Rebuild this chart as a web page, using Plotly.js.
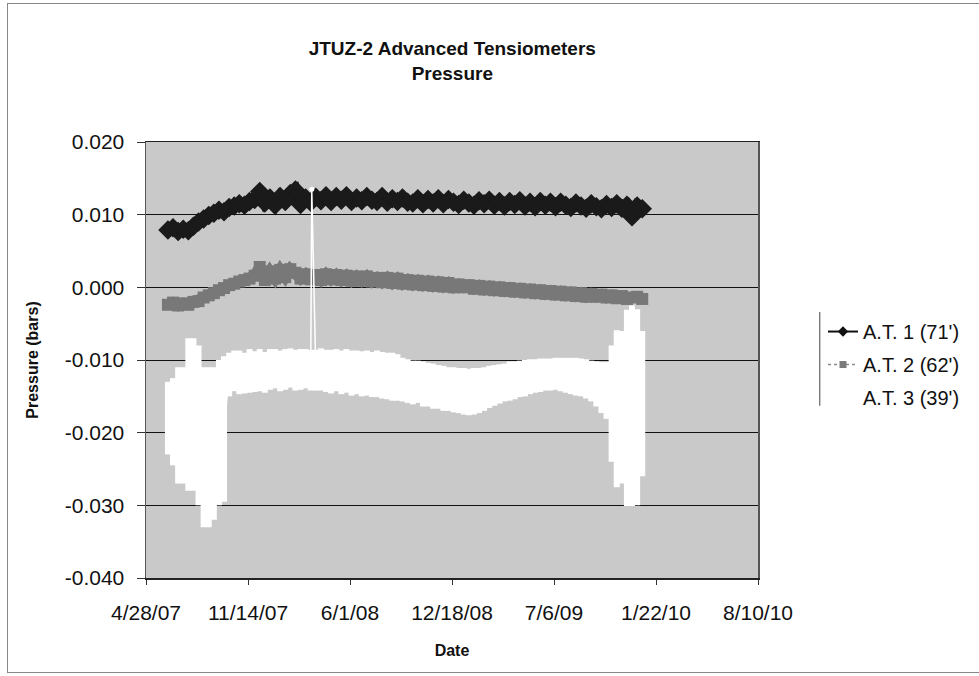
<!DOCTYPE html>
<html>
<head>
<meta charset="utf-8">
<script src="https://cdn.plot.ly/plotly-3.0.1.min.js"></script>
<style>
html,body{margin:0;padding:0;background:#fff;overflow:hidden;}
#wrap{position:relative;width:979px;height:676px;}
#chart{width:979px;height:676px;}
#frame{position:absolute;left:7px;top:3px;width:1000px;height:668px;border-left:1px solid #888;border-top:1px solid #888;border-bottom:1px solid #888;pointer-events:none;}
</style>
</head>
<body>
<div id="wrap"><div id="chart"></div><div id="frame"></div></div>
<script>
// Sampling dates (approx. every 10 days)
const dates = [
"2007-06-10","2007-06-20","2007-06-30","2007-07-10","2007-07-20","2007-07-30","2007-08-09","2007-08-19","2007-08-29","2007-09-08",
"2007-09-18","2007-09-28","2007-10-08","2007-10-18","2007-10-28","2007-11-07","2007-11-17","2007-11-27","2007-12-07","2007-12-17",
"2007-12-27","2008-01-06","2008-01-16","2008-01-26","2008-02-05","2008-02-15","2008-02-25","2008-03-06","2008-03-16","2008-03-18",
"2008-03-26","2008-04-05","2008-04-15","2008-04-25","2008-05-05","2008-05-15","2008-05-25","2008-06-04","2008-06-14","2008-06-24",
"2008-07-04","2008-07-14","2008-07-24","2008-08-03","2008-08-13","2008-08-23","2008-09-02","2008-09-12","2008-09-22","2008-10-02",
"2008-10-12","2008-10-22","2008-11-01","2008-11-11","2008-11-21","2008-12-01","2008-12-11","2008-12-21","2008-12-31","2009-01-10",
"2009-01-20","2009-01-30","2009-02-09","2009-02-19","2009-03-01","2009-03-11","2009-03-21","2009-03-31","2009-04-10","2009-04-20",
"2009-04-30","2009-05-10","2009-05-20","2009-05-30","2009-06-09","2009-06-19","2009-06-29","2009-07-09","2009-07-19","2009-07-29",
"2009-08-08","2009-08-18","2009-08-28","2009-09-07","2009-09-17","2009-09-27","2009-10-07","2009-10-17","2009-10-27","2009-11-06",
"2009-11-16","2009-11-26","2009-12-06","2009-12-16","2009-12-26"
];

// A.T. 1 (71')
const at1 = [
0.0079,0.0082,0.0077,0.0080,0.0078,0.0084,0.0090,0.0094,0.0099,0.0102,
0.0106,0.0104,0.0110,0.0112,0.0115,0.0113,0.0118,0.0121,0.0132,0.0116,
0.0123,0.0113,0.0125,0.0118,0.0129,0.0134,0.0114,0.0123,0.0117,null,
0.0124,0.0119,0.0126,0.0118,0.0125,0.0120,0.0126,0.0118,0.0123,0.0119,
0.0125,0.0120,0.0118,0.0125,0.0117,0.0122,0.0118,0.0123,0.0117,0.0116,
0.0122,0.0115,0.0121,0.0116,0.0122,0.0115,0.0121,0.0117,0.0114,0.0120,
0.0116,0.0113,0.0119,0.0115,0.0120,0.0113,0.0118,0.0112,0.0118,0.0114,
0.0119,0.0112,0.0117,0.0111,0.0118,0.0113,0.0117,0.0111,0.0117,0.0113,
0.0110,0.0116,0.0112,0.0109,0.0115,0.0111,0.0108,0.0114,0.0110,0.0115,
0.0109,0.0113,0.0097,0.0112,0.0108
];

// A.T. 2 (62')
const at2 = [
-0.0024,-0.0021,-0.0025,-0.0022,-0.0024,-0.0020,-0.0019,-0.0014,-0.0011,-0.0008,
-0.0004,-0.0001,0.0003,0.0005,0.0008,0.0010,0.0012,0.0016,0.0028,0.0010,
0.0022,0.0012,0.0024,0.0014,0.0025,0.0020,0.0012,0.0018,0.0011,null,
0.0017,0.0010,0.0018,0.0011,0.0017,0.0010,0.0016,0.0009,0.0015,0.0009,
0.0015,0.0008,0.0013,0.0007,0.0013,0.0006,0.0012,0.0005,0.0010,0.0004,
0.0009,0.0003,0.0008,0.0002,0.0007,0.0001,0.0006,0.0000,0.0004,0.0000,
0.0003,-0.0002,0.0002,-0.0003,0.0001,-0.0004,0.0000,-0.0005,-0.0001,-0.0006,
-0.0002,-0.0007,-0.0003,-0.0008,-0.0004,-0.0009,-0.0005,-0.0010,-0.0006,-0.0011,
-0.0007,-0.0012,-0.0008,-0.0013,-0.0009,-0.0013,-0.0010,-0.0014,-0.0011,-0.0015,
-0.0012,-0.0016,-0.0014,-0.0013,-0.0016
];

// A.T. 3 (39') : mid value of the daily scatter and half-range of that scatter
const at3 = [
-0.0180,-0.0185,-0.0190,-0.0190,-0.0175,-0.0175,-0.0190,-0.0220,-0.0220,-0.0215,
-0.0200,-0.0195,-0.0120,-0.0115,-0.0117,-0.0118,-0.0115,-0.0116,-0.0114,-0.0117,
-0.0113,-0.0112,-0.0115,-0.0113,-0.0111,-0.0114,-0.0113,-0.0112,-0.0114,0.0135,
-0.0114,-0.0113,-0.0115,-0.0116,-0.0114,-0.0117,-0.0115,-0.0118,-0.0117,-0.0119,
-0.0118,-0.0120,-0.0119,-0.0121,-0.0122,-0.0123,-0.0124,-0.0127,-0.0129,-0.0131,
-0.0130,-0.0133,-0.0134,-0.0136,-0.0137,-0.0139,-0.0140,-0.0141,-0.0142,-0.0143,
-0.0144,-0.0143,-0.0142,-0.0140,-0.0137,-0.0135,-0.0133,-0.0131,-0.0129,-0.0128,
-0.0126,-0.0125,-0.0123,-0.0122,-0.0121,-0.0120,-0.0120,-0.0119,-0.0120,-0.0121,
-0.0122,-0.0123,-0.0124,-0.0126,-0.0129,-0.0133,-0.0138,-0.0142,-0.0160,-0.0167,
-0.0165,-0.0166,-0.0163,-0.0165,-0.0160
];
const at3Spread = [
0.0050,0.0060,0.0080,0.0080,0.0105,0.0105,0.0110,0.0110,0.0110,0.0105,
0.0100,0.0100,0.0030,0.0028,0.0030,0.0028,0.0030,0.0028,0.0029,0.0028,
0.0028,0.0027,0.0028,0.0028,0.0027,0.0028,0.0028,0.0027,0.0028,0.0000,
0.0028,0.0029,0.0029,0.0030,0.0029,0.0030,0.0030,0.0031,0.0030,0.0031,
0.0031,0.0031,0.0032,0.0032,0.0032,0.0033,0.0032,0.0030,0.0030,0.0030,
0.0029,0.0031,0.0030,0.0031,0.0030,0.0031,0.0030,0.0031,0.0031,0.0032,
0.0032,0.0032,0.0031,0.0030,0.0029,0.0028,0.0027,0.0026,0.0027,0.0026,
0.0025,0.0025,0.0024,0.0023,0.0023,0.0022,0.0022,0.0022,0.0023,0.0024,
0.0025,0.0026,0.0026,0.0027,0.0028,0.0031,0.0035,0.0039,0.0080,0.0108,
0.0105,0.0135,0.0138,0.0135,0.0100
];

const seriesNames = ["A.T. 1 (71')", "A.T. 2 (62')", "A.T. 3 (39')"];
const xTickVals = ["2007-04-28","2007-11-14","2008-06-01","2008-12-18","2009-07-06","2010-01-22","2010-08-10"];
const xTickText = ["4/28/07","11/14/07","6/1/08","12/18/08","7/6/09","1/22/10","8/10/10"];
const yTickVals = [0.02,0.01,0,-0.01,-0.02,-0.03,-0.04];
const yTickText = ["0.020","0.010","0.000","-0.010","-0.020","-0.030","-0.040"];

const FONT = "Liberation Sans, Arial, Helvetica, sans-serif";

const traces = [
  {x: dates, y: at1, name: seriesNames[0], type: 'scatter', mode: 'lines+markers', showlegend: false,
   line: {color: '#151515', width: 11}, marker: {symbol: 'diamond', size: 15, color: '#1a1a1a'}},
  {x: dates, y: at2, name: seriesNames[1], type: 'scatter', mode: 'lines+markers', showlegend: false,
   line: {color: '#7a7a7a', width: 11}, marker: {symbol: 'square', size: 12, color: '#787878'}},
  {x: dates, y: at3, name: seriesNames[2], type: 'scatter', mode: 'lines+markers', showlegend: false,
   line: {color: '#ffffff', width: 1.5}, marker: {symbol: 'circle', size: 5, color: '#ffffff'},
   error_y: {type: 'data', array: at3Spread, symmetric: true, color: '#ffffff', thickness: 6, width: 0}},
  // legend entries
  {x: [null], y: [null], name: seriesNames[0], type: 'scatter', mode: 'lines+markers', legendgroup: 'a',
   line: {color: '#111111', width: 2}, marker: {symbol: 'diamond', size: 8, color: '#111111'}},
  {x: [null], y: [null], name: seriesNames[1], type: 'scatter', mode: 'lines+markers', legendgroup: 'b',
   line: {color: '#8a8a8a', width: 1.5, dash: 'dot'}, marker: {symbol: 'square', size: 7, color: '#7a7a7a'}},
  {x: [null], y: [null], name: seriesNames[2], type: 'scatter', mode: 'lines+markers', legendgroup: 'c',
   line: {color: '#ffffff', width: 2}, marker: {symbol: 'circle', size: 6, color: '#ffffff'}}
];

const layout = {
  width: 979, height: 676,
  margin: {l: 146, r: 221, t: 142, b: 98},
  paper_bgcolor: '#ffffff',
  plot_bgcolor: '#c9c9c9',
  font: {family: FONT, color: '#111111'},
  title: {text: '<b>JTUZ-2 Advanced Tensiometers<br>Pressure</b>', x: 0.462, xanchor: 'center',
          y: 0.918, yanchor: 'top', font: {family: FONT, size: 19, color: '#111111'}},
  xaxis: {
    type: 'date', range: ['2007-04-28', '2010-08-10'],
    tickmode: 'array', tickvals: xTickVals, ticktext: xTickText,
    ticks: 'outside', ticklen: 5, tickcolor: '#333', ticklabelstandoff: 10,
    tickfont: {family: FONT, size: 21, color: '#111111'},
    showgrid: false, zeroline: false,
    showline: true, linecolor: '#222', linewidth: 1.5, mirror: true,
    title: {text: '<b>Date</b>', font: {family: FONT, size: 16, color: '#111111'}, standoff: 22}
  },
  yaxis: {
    range: [-0.04, 0.02],
    tickmode: 'array', tickvals: yTickVals, ticktext: yTickText,
    ticks: 'outside', ticklen: 8, tickcolor: '#333', ticklabelstandoff: 8,
    tickfont: {family: FONT, size: 21, color: '#111111'},
    showgrid: true, gridcolor: '#111111', gridwidth: 1, zeroline: false,
    showline: true, linecolor: '#555', linewidth: 1.5, mirror: true,
    title: {text: '<b>Pressure (bars)</b>', font: {family: FONT, size: 16, color: '#111111'}, standoff: 22}
  },
  showlegend: true,
  legend: {x: 1.1062, xanchor: 'left', y: 0.61, yanchor: 'top', bgcolor: 'rgba(0,0,0,0)',
           font: {family: FONT, size: 20, color: '#111111'}, tracegroupgap: 4, traceorder: 'grouped'},
  shapes: [
    {type: 'line', xref: 'paper', yref: 'paper', x0: 1.101, x1: 1.101, y0: 0.395, y1: 0.61,
     line: {color: '#444', width: 1}}
  ]
};

Plotly.newPlot('chart', traces, layout, {displayModeBar: false, staticPlot: true});
</script>
</body>
</html>
